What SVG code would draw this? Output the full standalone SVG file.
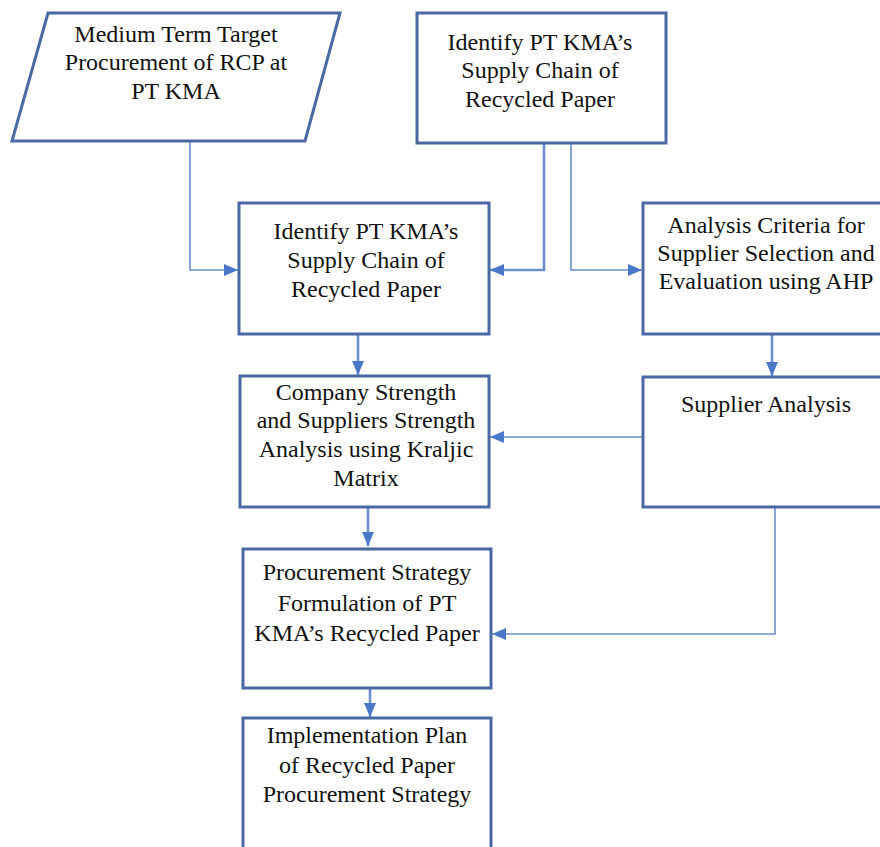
<svg xmlns="http://www.w3.org/2000/svg" width="880" height="847" viewBox="0 0 880 847">
<style>
.box{fill:#fff;stroke:#4a68a4;stroke-width:3}
.c{fill:none;stroke:#6b8fcc;stroke-width:1.6}
.ct{fill:none;stroke:#6b8fcc;stroke-width:2.6}
.t{font-family:'Liberation Serif','Times New Roman',serif;font-size:24px;fill:#111;text-anchor:middle}
</style>
<defs>
<marker id="ah" markerUnits="userSpaceOnUse" markerWidth="14" markerHeight="14" viewBox="0 0 14 14" refX="14" refY="7" orient="auto">
<path d="M0,1 L14,7 L0,13 Z" fill="#4a78c8"/>
</marker>
</defs>
<rect width="880" height="847" fill="#fff"/>
<g id="connectors">
<path class="c" d="M190,141 V270 H238" marker-end="url(#ah)"/>
<path class="ct" d="M544,143 V270 H490" marker-end="url(#ah)"/>
<path class="c" d="M571,143 V270 H642" marker-end="url(#ah)"/>
<path class="ct" d="M358,334 V375" marker-end="url(#ah)"/>
<path class="ct" d="M772,334 V376" marker-end="url(#ah)"/>
<path class="c" d="M643,437 H490" marker-end="url(#ah)"/>
<path class="ct" d="M368,507 V546" marker-end="url(#ah)"/>
<path class="c" d="M775,507 V634 H492" marker-end="url(#ah)"/>
<path class="ct" d="M370,688 V717" marker-end="url(#ah)"/>
</g>
<g class="t" font-family="Liberation Serif, Times New Roman, serif">
<g id="n1">
<polygon class="box" points="48,13 340,13 305,141 12,141"/>
<text x="176" y="42">Medium Term Target</text>
<text x="176" y="70">Procurement of RCP at</text>
<text x="176" y="99">PT KMA</text>
</g>
<g id="n2">
<rect class="box" x="417" y="13" width="249" height="130"/>
<text x="540" y="50">Identify PT KMA’s</text>
<text x="540" y="78">Supply Chain of</text>
<text x="540" y="107">Recycled Paper</text>
</g>
<g id="n3">
<rect class="box" x="239" y="203" width="250" height="131"/>
<text x="366" y="239">Identify PT KMA’s</text>
<text x="366" y="268">Supply Chain of</text>
<text x="366" y="297">Recycled Paper</text>
</g>
<g id="n4">
<rect class="box" x="643" y="203" width="246" height="131"/>
<text x="766" y="233">Analysis Criteria for</text>
<text x="766" y="261">Supplier Selection and</text>
<text x="766" y="289">Evaluation using AHP</text>
</g>
<g id="n5">
<rect class="box" x="240" y="376" width="249" height="131"/>
<text x="366" y="400">Company Strength</text>
<text x="366" y="428">and Suppliers Strength</text>
<text x="366" y="457">Analysis using Kraljic</text>
<text x="366" y="486">Matrix</text>
</g>
<g id="n6">
<rect class="box" x="643" y="377" width="246" height="130"/>
<text x="766" y="412">Supplier Analysis</text>
</g>
<g id="n7">
<rect class="box" x="243" y="549" width="248" height="139"/>
<text x="367" y="580">Procurement Strategy</text>
<text x="367" y="611">Formulation of PT</text>
<text x="367" y="641">KMA’s Recycled Paper</text>
</g>
<g id="n8">
<rect class="box" x="243" y="718" width="248" height="150"/>
<text x="367" y="743">Implementation Plan</text>
<text x="367" y="773">of Recycled Paper</text>
<text x="367" y="802">Procurement Strategy</text>
</g>
</g>
</svg>
